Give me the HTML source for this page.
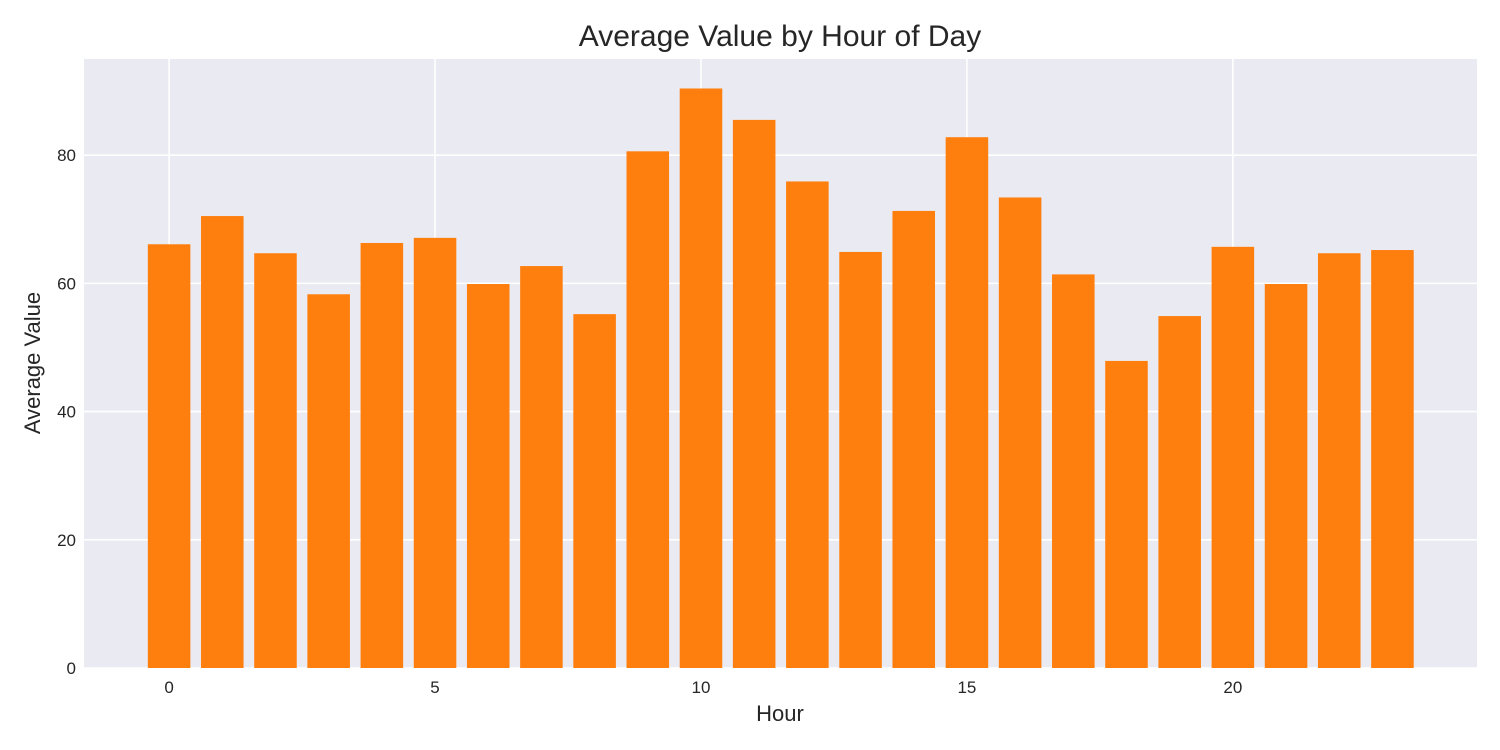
<!DOCTYPE html>
<html><head><meta charset="utf-8"><style>
html,body{margin:0;padding:0;background:#fff;}
svg{display:block;font-family:"Liberation Sans",sans-serif;}
</style></head><body>
<svg id="chart" width="1500" height="750">
<rect x="84" y="59" width="1393" height="609" fill="#eaeaf2"/>
<g id="grid"></g><g id="bars"></g><g id="ticks"></g>
<text x="780" y="46" text-anchor="middle" font-size="30" fill="#262626">Average Value by Hour of Day</text>
<text x="780" y="721" text-anchor="middle" font-size="22" fill="#262626">Hour</text>
<text transform="translate(40,363) rotate(-90)" text-anchor="middle" font-size="22" fill="#262626">Average Value</text>
</svg>
<script>
const hours=[0,1,2,3,4,5,6,7,8,9,10,11,12,13,14,15,16,17,18,19,20,21,22,23];
const values=[66.1,70.5,64.7,58.3,66.3,67.1,59.9,62.7,55.2,80.6,90.4,85.5,75.9,64.9,71.3,82.8,73.4,61.4,47.9,54.9,65.7,59.9,64.7,65.2];
const xTicks=[0,5,10,15,20];
const yTicks=[0,20,40,60,80];
const NS="http://www.w3.org/2000/svg";
const L=84,R=1477,T=59,B=668,xMin=-1.6,xMax=24.59,yMin=0,yMax=95;
const xs=v=>L+(v-xMin)/(xMax-xMin)*(R-L);
const ys=v=>B-(v-yMin)/(yMax-yMin)*(B-T);
function mk(tag,a,p){const e=document.createElementNS(NS,tag);for(const k in a)e.setAttribute(k,a[k]);p.appendChild(e);return e;}
const grid=document.getElementById('grid'),bars=document.getElementById('bars'),ticks=document.getElementById('ticks');
xTicks.forEach(t=>{
 const g=mk('line',{x1:xs(t),x2:xs(t),y1:T,y2:B,stroke:'#fff','stroke-width':1.6},grid);
 
 
 const l=mk('text',{x:xs(t),y:B+25,'text-anchor':'middle','font-size':17,fill:'#262626'},ticks);
 l.textContent=t;
 
 
});
yTicks.forEach(t=>{
 const g=mk('line',{x1:L,x2:R,y1:ys(t),y2:ys(t),stroke:'#fff','stroke-width':1.6},grid);
 
 
 const l=mk('text',{x:L-8,y:ys(t)+6,'text-anchor':'end','font-size':17,fill:'#262626'},ticks);
 l.textContent=t;
 
 
});
hours.forEach((h,i)=>{
 const x0=xs(h-0.4),x1=xs(h+0.4);
 const r=mk('rect',{x:x0,y:ys(values[i]),width:x1-x0,height:ys(0)-ys(values[i]),fill:'#ff7f0e'},bars);
 
 
});
</script>
</body></html>
